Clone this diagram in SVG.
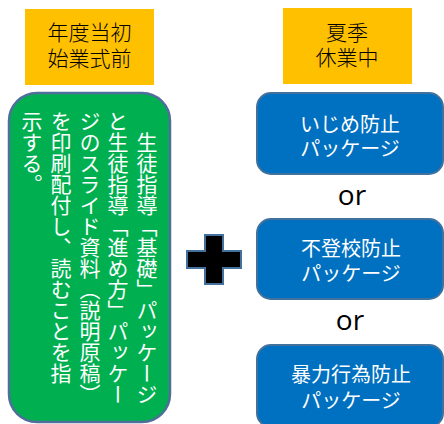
<svg xmlns="http://www.w3.org/2000/svg" width="444" height="424" viewBox="0 0 444 424">
<style>
.jp{font-family:"Noto Sans CJK JP","Noto Sans",sans-serif;}
.lbl{fill:#FFC000;}
.lt{font-size:21px;fill:#000;text-anchor:middle;font-weight:300;}
.pk{fill:#0070C0;stroke:#41719C;stroke-width:2;}
.pt{font-size:20px;fill:#fff;text-anchor:middle;}
.vt{font-size:21px;fill:#fff;writing-mode:vertical-rl;}
.or{font-family:"Open Sans","DejaVu Sans",sans-serif;font-size:28px;fill:#000;text-anchor:middle;}
</style>
<g id="label-start">
<rect class="lbl" x="25" y="9" width="129" height="76"/>
<text class="jp lt" x="89.5" y="40">年度当初<tspan x="89.5" dy="26">始業式前</tspan></text>
</g>
<g id="label-summer">
<rect class="lbl" x="283" y="8" width="129" height="76"/>
<text class="jp lt" x="347" y="40">夏季<tspan x="347" dy="25">休業中</tspan></text>
</g>
<g id="task">
<rect x="9" y="93" width="161" height="329" rx="28" ry="28" fill="#00B050" stroke="#4F6E9A" stroke-width="2.5"/>
<text class="jp vt" x="147" y="111">　生徒指導「基礎」パッケージ</text>
<text class="jp vt" x="118" y="111">と生徒指導「進め方」パッケー</text>
<text class="jp vt" x="90" y="111">ジのスライド資料（説明原稿）</text>
<text class="jp vt" x="61" y="111">を印刷配付し、読むことを指</text>
<text class="jp vt" x="32" y="111">示する。</text>
</g>
<g id="plus">
<polygon points="205,235 223,235 223,251 241,251 241,268 223,268 223,284 205,284 205,268 187,268 187,251 205,251" fill="#000" stroke="#41719C" stroke-width="2"/>
</g>
<g id="pkg-bullying">
<rect class="pk" x="257" y="93" width="186" height="81" rx="14" ry="14"/>
<text class="jp pt" x="350" y="132">いじめ防止<tspan x="350" dy="24">パッケージ</tspan></text>
</g>
<g id="pkg-truancy">
<rect class="pk" x="257" y="219" width="186" height="80" rx="14" ry="14"/>
<text class="jp pt" x="351" y="256">不登校防止<tspan x="351" dy="25">パッケージ</tspan></text>
</g>
<g id="pkg-violence">
<rect class="pk" x="257" y="345" width="186" height="82" rx="14" ry="14"/>
<text class="jp pt" x="351" y="382">暴力行為防止<tspan x="351" dy="26">パッケージ</tspan></text>
</g>
<g id="connectors">
<text class="or" x="352" y="205">or</text>
<text class="or" x="350" y="330">or</text>
</g>
</svg>
